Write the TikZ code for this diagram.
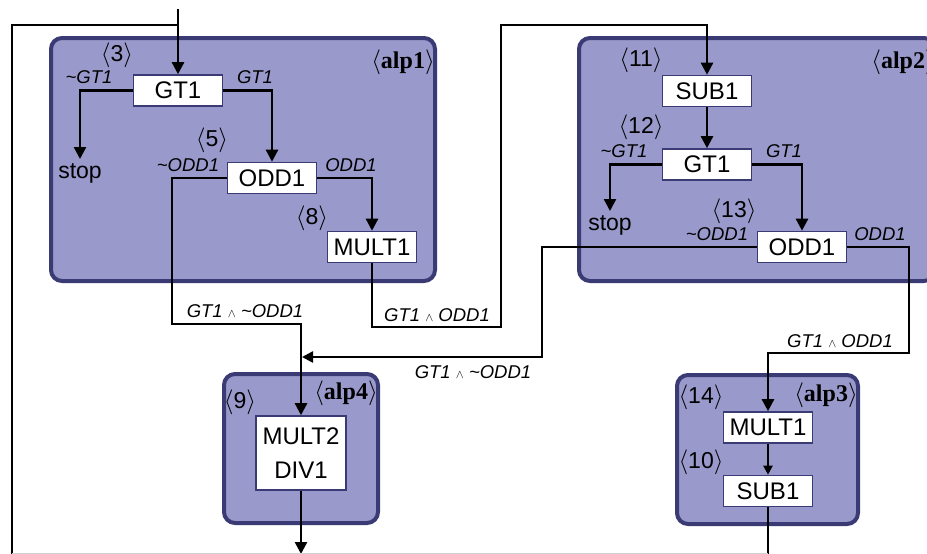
\documentclass[tikz,border=0pt]{standalone}
\usepackage{fontspec}
\setmainfont{Liberation Sans}
\newfontfamily\alpfont{Liberation Serif}
\usepackage{xcolor}
\usepackage{tikz}
\usetikzlibrary{arrows.meta,positioning}
\definecolor{AlpFill}{HTML}{9999CC}
\definecolor{AlpEdge}{HTML}{3A3A74}
\newcommand{\nt}{\textasciitilde}
\newcommand{\andop}{ {\fontsize{13}{13}\selectfont$\wedge$} }
\newcommand{\stepno}[1]{$\langle$#1$\rangle$}

\begin{document}
\begin{tikzpicture}[
  x=1pt, y=-1pt,
  every node/.style={font=\fontsize{23}{25}\selectfont},
  alp/.style={draw=AlpEdge, fill=AlpFill, line width=4pt, rounded corners=11pt, inner sep=0pt},
  op/.style={draw=AlpEdge, fill=white, line width=1.6pt, minimum width=89pt, minimum height=31pt, inner sep=0pt, align=center, font=\fontsize{24}{26}\selectfont},
  cond/.style={font=\fontsize{18.5}{20}\selectfont\itshape, inner sep=0pt},
  num/.style={inner sep=0pt},
  alpname/.style={font=\fontsize{24}{26}\selectfont\alpfont\bfseries, inner sep=0pt},
  stopnode/.style={inner sep=4pt, anchor=north},
  link/.style={line width=2.5pt, color=black},
  arrow/.style={link, -{Triangle[length=12pt, width=12pt]}},
  smallarrow/.style={link, -{Triangle[length=9pt, width=9pt]}}
]
\useasboundingbox (0,0) rectangle (927,554);
\clip (0,0) rectangle (927,554);

\node[alp, minimum width=384pt, minimum height=243pt] (alp1) at (243,159.5) {};
\node[alp, minimum width=356pt, minimum height=243pt] (alp2) at (757,159.5) {};
\node[alp, minimum width=181pt, minimum height=149pt] (alp3) at (767.5,449.5) {};
\node[alp, minimum width=154pt, minimum height=149pt] (alp4) at (301,448.5) {};

\node[alpname] (alp1name) at (403,62) {\stepno{alp1}};
\node[alpname] (alp2name) at (903,62) {\stepno{alp2}};
\node[alpname] (alp3name) at (826,395) {\stepno{alp3}};
\node[alpname] (alp4name) at (346,393) {\stepno{alp4}};

\node[op] (gtA) at (178,90.5) {GT1};
\node[op] (oddA) at (272,178) {ODD1};
\node[op] (multA) at (372,247) {MULT1};
\node[stopnode] (stopA) at (80,159) {stop};

\node[op] (subB) at (707,91) {SUB1};
\node[op] (gtB) at (707,164.5) {GT1};
\node[op] (oddB) at (802,247) {ODD1};
\node[stopnode] (stopB) at (610,211) {stop};

\node[op] (multC) at (768,427.5) {MULT1};
\node[op] (subC) at (768,491) {SUB1};

\node[op, font=\fontsize{24}{34}\selectfont, minimum width=90pt, minimum height=74pt] (multD) at (301,453) {MULT2\\DIV1};

\node[num] (n3) at (117,55) {\stepno{3}};
\node[num] (n5) at (212,140) {\stepno{5}};
\node[num] (n8) at (312,218) {\stepno{8}};
\node[num] (n11) at (641,60) {\stepno{11}};
\node[num] (n12) at (641,127) {\stepno{12}};
\node[num] (n13) at (734,211) {\stepno{13}};
\node[num] (n14) at (701,397) {\stepno{14}};
\node[num] (n10) at (701,462) {\stepno{10}};
\node[num] (n9) at (240,402) {\stepno{9}};

\node[cond] (cA1) at (89,77) {\nt GT1};
\node[cond] (cA2) at (255,77) {GT1};
\node[cond] (cA3) at (188,165) {\nt ODD1};
\node[cond] (cA4) at (351,165) {ODD1};
\node[cond] (cB1) at (624,151) {\nt GT1};
\node[cond] (cB2) at (784,151) {GT1};
\node[cond] (cB3) at (717,234) {\nt ODD1};
\node[cond] (cB4) at (880,234) {ODD1};
\node[cond] (eA1) at (245,311) {GT1\andop\nt ODD1};
\node[cond] (eA2) at (437,315) {GT1\andop ODD1};
\node[cond] (eB1) at (473,372) {GT1\andop\nt ODD1};
\node[cond] (eB2) at (840,341) {GT1\andop ODD1};

\coordinate (entry) at (178,9);
\coordinate (loopB) at (12,556);
\coordinate (loopT) at (178,25);
\coordinate (jA) at (172,324);
\coordinate (jB) at (501,327);
\coordinate (jC) at (707,25);
\coordinate (jD) at (542,357);
\coordinate (jE) at (302,357);
\coordinate (jF) at (909,353);
\coordinate (outC) at (768,556);
\coordinate (outD) at (301,554);

\draw[link] (loopB) |- (loopT);
\draw[arrow] (entry) -- (gtA.north);
\draw[arrow] (gtA.west) -| (stopA.north);
\draw[arrow] (gtA.east) -| (oddA.north);
\draw[arrow] (oddA.east) -| (multA.north);
\draw[arrow] (oddA.west) -| (jA) -| (multD.north);
\draw[arrow] (multA.south) |- (jB) |- (jC) -- (subB.north);
\draw[arrow] (subB) -- (gtB);
\draw[arrow] (gtB.west) -| (stopB.north);
\draw[arrow] (gtB.east) -| (oddB.north);
\draw[arrow, -{Triangle[length=11pt, width=11pt]}] (oddB.west) -| (jD) -- (jE);
\draw[arrow] (oddB.east) -| (jF) -| (multC.north);
\draw[smallarrow] (multC) -- (subC);
\draw[link] (subC.south) -- (outC);
\draw[arrow] (multD.south) -- (outD);
\draw[gray!35, line width=1pt] (12,553) -- (768,553);
\end{tikzpicture}
\end{document}
